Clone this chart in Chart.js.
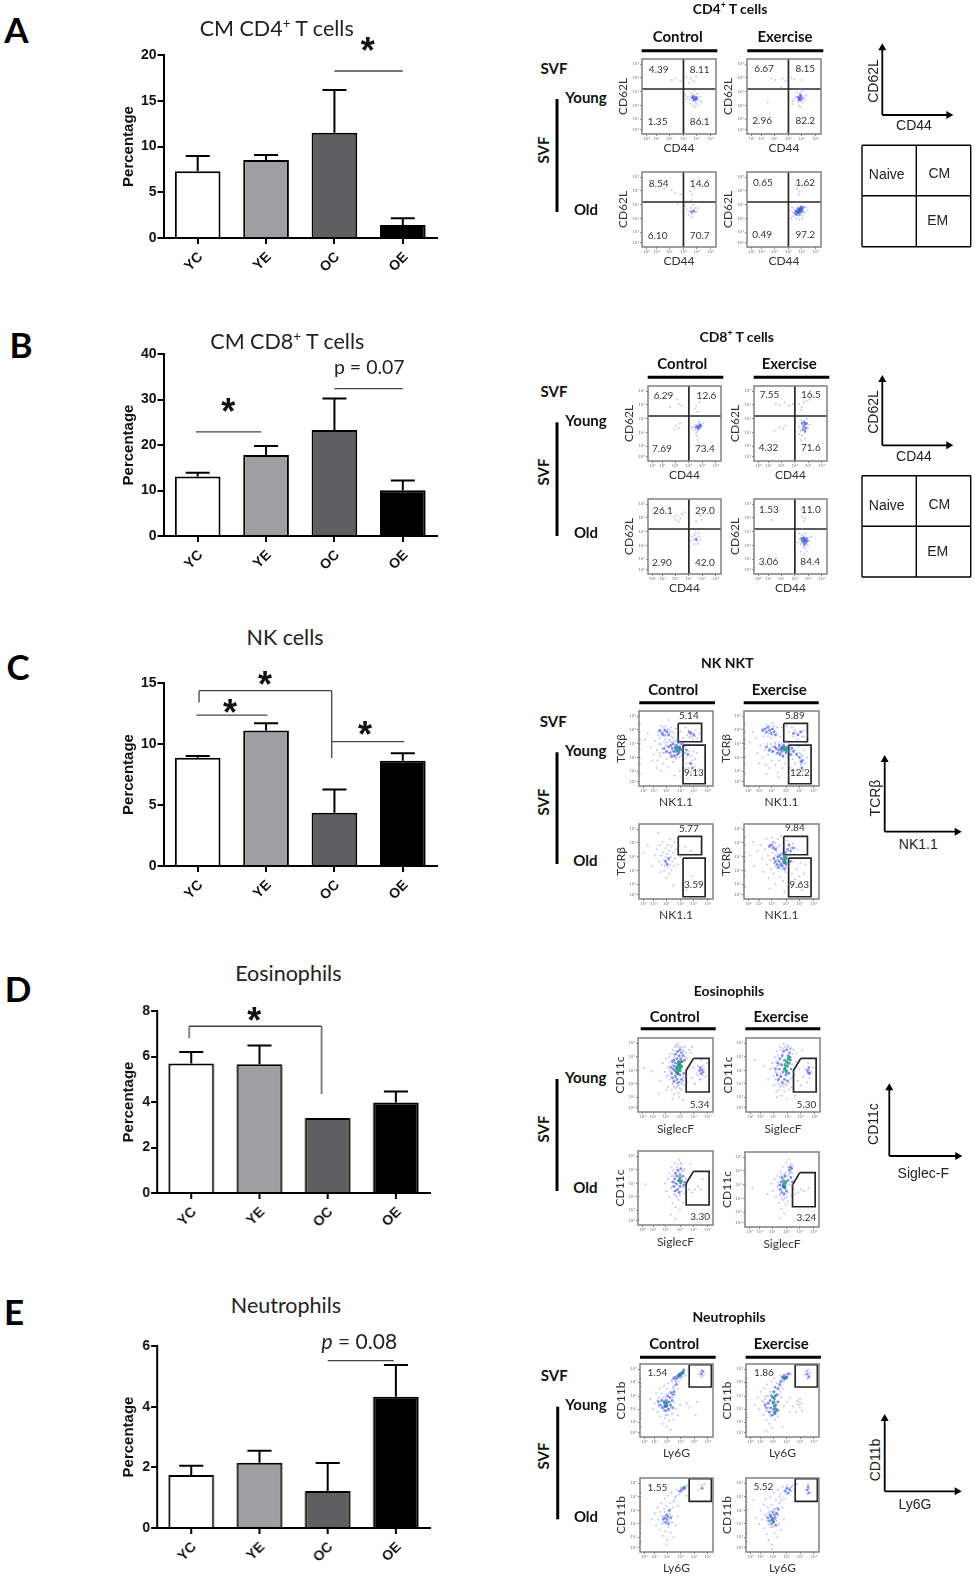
<!DOCTYPE html>
<html>
<head>
<meta charset="utf-8">
<title>Memory T cells, NK cells, eosinophils and neutrophils</title>
<script src="https://cdn.jsdelivr.net/npm/chart.js@4"></script>
<style>
  html, body { margin: 0; background: #fff; }
  #page { position: relative; width: 975px; height: 1579px; overflow: hidden; background: #fff; }
  canvas { position: absolute; }
  svg { position: absolute; left: 0; top: 0; }
  .t { position: absolute; white-space: nowrap; line-height: 1; color: #111; font-family: Lato, sans-serif; }
  .t sup { font-size: .62em; line-height: 0; }
  .letter { font-size: 35px; font-weight: 700; color: #000; }
  .title { font-size: 21.5px; color: #222; margin-top: -2px; }
  .star { font: 700 36px "Liberation Sans", sans-serif; }
  .pval { font-size: 21px; color: #222; margin-top: -2px; }
  .pval2 { font-size: 19.5px; color: #222; margin-top: -3px; }
  .head { font-size: 14px; font-weight: 700; margin-top: -1px; }
  .group { font-size: 15px; font-weight: 700; margin-top: -1px; }
  .num { font-size: 10px; color: #333; margin-top: -1px; }
  .sch { font: 14px "Liberation Sans", sans-serif; color: #222; }
</style>
</head>
<body>
<div id="page"></div>
<script>
'use strict';
let page = document.getElementById('page');

let categories = ['YC', 'YE', 'OC', 'OE'];
let barColors = ['#ffffff', '#9f9fa3', '#5f5f61', '#000000'];

let cd4Means = [7.3, 8.52, 11.5, 1.42];
let cd4Tops = [8.96, 9.07, 16.17, 2.15];
let cd4Ticks = [0, 5, 10, 15, 20];

let cd8Means = [13.07, 17.8, 23.3, 10.06];
let cd8Tops = [13.9, 19.8, 30.2, 12.2];
let cd8Ticks = [0, 10, 20, 30, 40];

let nkMeans = [8.88, 11.1, 4.36, 8.63];
let nkTops = [9.02, 11.7, 6.28, 9.24];
let nkTicks = [0, 5, 10, 15];

let eosMeans = [5.69, 5.66, 3.3, 3.98];
let eosTops = [6.2, 6.48, 3.3, 4.46];
let eosTicks = [0, 2, 4, 6, 8];

let neuMeans = [1.75, 2.15, 1.22, 4.33];
let neuTops = [2.05, 2.55, 2.14, 5.37];
let neuTicks = [0, 2, 4, 6];

// significance lines: category index and value at both ends
let cd4Lines = [[2, 18.25, 3, 18.25]];
let cd8Lines = [[-0.03, 22.9, 0.93, 22.9], [2, 32.4, 3, 32.4]];
let nkLines = [[0.02, 13.4, 0.02, 14.37], [0.02, 14.37, 1.96, 14.37], [1.96, 14.37, 1.96, 8.86],
  [-0.02, 12.37, 1.02, 12.37], [1.96, 10.2, 3.02, 10.2]];
let eosLines = [[-0.03, 6.8, -0.03, 7.33], [-0.03, 7.33, 1.91, 7.33], [1.91, 7.33, 1.91, 4.35]];
let neuLines = [[2, 5.52, 2.97, 5.52]];

// flow plots, both axes read as percent of the plot box
let flowXTicks = [6, 20, 37, 56, 74, 93];
let flowYTicks = [6, 20, 38, 56, 75, 93];
let flowTickLabels = ['10⁰', '10¹', '10²', '10³', '10⁴', '10⁵'];

let quadV = [[56, 0], [56, 100]];
let quadH = [[0, 60], [100, 60]];
let nkUpperGate = [[53, 83.5], [84.6, 83.5], [84.6, 59], [53, 59], [53, 83.5]];
let nkLowerGate = [[59.5, 54.4], [89.4, 54.4], [89.4, 3], [59.5, 3], [59.5, 54.4]];
let eosGate = [[74, 72.5], [94.8, 72.5], [94.8, 27], [64.2, 27], [64.2, 56], [74, 72.5]];
let neuGate = [[67.4, 99], [97.8, 99], [97.8, 68.5], [67.4, 68.5], [67.4, 99]];

let cd4ycLow = [[66,50],[68,44],[70,52],[73,41],[75,49],[64,46],[62,50],[74,54],[77,45],[69,38],[72,36],[60,47],[79,50],[67,55],[71,58],[58,52],[80,43],[45,74],[52,71],[66,74],[70,70],[73,77],[60,76],[64,68],[40,72],[76,38],[65,41]];
let cd4ycMid = [[70,47],[72,49],[71,45],[74,48],[68,48],[73,46],[69,50]];
let cd4yeLow = [[66,50],[69,43],[72,54],[75,42],[77,49],[64,47],[62,44],[74,57],[78,46],[70,38],[68,55],[61,40],[80,52],[33,74],[38,72],[48,74],[52,71],[60,75],[64,73],[74,72],[28,42],[46,62],[72,36],[73,60]];
let cd4yeMid = [[71,48],[73,50],[70,46],[74,47],[69,49],[72,45],[72,52]];
let cd4ocLow = [[60,50],[64,47],[66,52],[68,44],[70,49],[72,52],[74,47],[67,40],[63,43],[76,52],[69,56],[55,52],[58,55],[48,57],[72,46],[65,74],[68,70],[66,62],[70,78],[40,76],[45,72],[52,70],[30,78]];
let cd4ocMid = [[70,48],[67,47]];
let cd4oeLow = [[62,46],[64,50],[66,44],[68,52],[70,42],[72,55],[74,42],[76,51],[78,46],[80,53],[63,41],[67,38],[71,36],[75,38],[61,53],[82,49],[72,60],[68,59],[60,38],[70,70],[68,78],[66,84],[71,74],[58,48]];
let cd4oeMid = [[66,48],[68,46],[70,49],[72,47],[74,50],[69,51],[71,44],[73,53],[67,43],[75,47],[65,45],[72,51],[76,53]];
let cd4oeHot = [[71,49],[72,50],[70,47],[73,51],[69,47]];

let cd8ycLow = [[62,46],[64,42],[66,48],[68,40],[70,50],[72,44],[74,47],[76,50],[60,44],[67,34],[68,28],[66,38],[70,53],[38,47],[42,44],[36,42],[44,50],[64,70],[66,74],[68,66],[70,78],[42,76],[40,82],[46,74],[30,72]];
let cd8ycMid = [[68,46],[70,45],[72,47],[69,43],[71,48],[66,45]];
let cd8yeLow = [[62,46],[64,40],[65,54],[66,34],[68,52],[70,38],[72,56],[74,44],[64,28],[62,36],[76,48],[70,30],[35,45],[40,43],[43,47],[28,40],[66,72],[68,78],[72,80],[76,82],[62,76],[30,76],[36,74],[42,78],[48,74],[53,76],[64,68]];
let cd8yeMid = [[68,46],[70,49],[67,42],[71,44],[69,52],[72,50],[66,50],[70,40]];
let cd8ocLow = [[60,50],[62,46],[64,52],[66,48],[68,44],[70,50],[72,46],[65,56],[69,54],[58,44],[63,40],[68,40],[66,70],[72,78],[74,72],[36,76],[40,78],[44,74],[38,72],[46,80],[50,82],[42,70]];
let cd8ocMid = [[66,46]];
let cd8oeLow = [[62,46],[64,40],[66,52],[68,36],[70,54],[72,40],[74,48],[76,44],[64,30],[68,26],[70,34],[72,30],[74,38],[60,42],[62,54],[66,60],[68,70],[66,76],[68,82],[65,86],[70,74],[24,72],[78,50]];
let cd8oeMid = [[66,44],[68,42],[70,45],[72,47],[67,48],[69,48],[71,42],[65,47],[73,44],[69,39]];
let cd8oeHot = [[69,45]];

let nkycLow = [[8,62],[12,70],[16,52],[20,42],[22,60],[24,48],[25,34],[26,72],[27,56],[28,64],[29,40],[30,80],[31,50],[32,72],[33,30],[34,44],[35,62],[36,66],[36,80],[37,36],[38,54],[38,74],[39,46],[40,25],[41,70],[42,60],[43,38],[43,78],[44,50],[45,72],[46,32],[46,64],[47,42],[48,70],[49,55],[50,36],[50,76],[51,46],[52,64],[54,38],[55,20],[56,72],[58,44],[59,30],[60,64],[62,52],[62,24],[63,78],[64,38],[65,68],[66,58],[67,74],[68,30],[68,46],[69,66],[70,18],[70,40],[71,72],[72,34],[73,62],[74,70],[75,26],[76,36],[77,74],[78,44],[79,20],[79,64],[82,70],[30,20],[48,14],[18,34],[24,24],[40,88],[34,76],[58,12],[66,10],
  [38,58],[40,44],[41,62],[42,54],[44,58],[44,46],[45,38],[46,46],[47,60],[48,50],[49,38],[50,60],[51,40],[52,52],[53,44],[54,60],[55,46],[56,56],[57,40],[58,60],[60,50],[61,56],[63,44],[30,74],[33,78],[36,68],[39,76],[42,74],[44,66],[26,68],[68,64],[72,66],[76,66],[64,30],[67,24],[71,16],[74,46],[34,58],[36,54],[33,44],[30,56],[28,44]];
let nkycMid = [[28,74],[31,70],[33,68],[35,74],[38,72],[40,68],[34,50],[37,46],[40,52],[42,44],[43,54],[44,40],[45,50],[46,56],[47,46],[48,40],[49,52],[50,46],[51,54],[52,42],[53,58],[54,44],[55,52],[57,48],[58,56],[60,44],[64,48],[66,42],[70,30],[72,24],[70,70],[74,68],[68,72]];
let nkycHot = [[50,50],[52,48],[53,51],[54,49],[55,50],[53,47]];
let nkyeLow = [[8,58],[12,72],[16,64],[18,44],[22,54],[24,76],[25,38],[26,66],[28,48],[29,28],[30,82],[31,56],[32,42],[33,70],[34,24],[35,50],[36,64],[37,34],[38,84],[39,46],[40,72],[41,58],[42,28],[43,42],[44,78],[45,18],[46,52],[47,34],[48,66],[49,44],[50,78],[51,24],[52,38],[54,70],[55,30],[56,60],[57,80],[58,38],[60,72],[62,24],[62,46],[64,78],[65,36],[66,66],[68,30],[68,74],[70,44],[71,62],[72,18],[73,52],[74,72],[75,34],[76,28],[77,66],[78,40],[79,22],[80,48],[80,74],[82,30],[82,56],[84,38],[84,68],[46,12],[20,30],[30,16],[60,14],
  [28,70],[30,78],[32,66],[34,80],[36,76],[38,68],[40,80],[42,74],[44,70],[33,46],[36,56],[38,52],[40,46],[42,56],[44,44],[46,58],[48,48],[50,56],[52,46],[54,56],[56,52],[58,44],[60,56],[62,52],[64,42],[66,54],[68,48],[72,40],[74,44],[76,42],[78,30],[78,20],[75,72],[70,70],[80,66]];
let nkyeMid = [[25,74],[28,76],[30,72],[32,78],[34,74],[36,70],[38,76],[40,72],[42,68],[30,52],[34,48],[38,46],[41,52],[43,50],[45,44],[46,48],[47,54],[48,42],[49,50],[50,46],[51,52],[52,40],[53,54],[56,44],[58,52],[60,48],[62,42],[64,50],[66,46],[70,42],[74,38],[76,32],[77,24],[78,34],[66,70],[72,68],[76,72]];
let nkyeHot = [[51,50],[53,49],[54,51],[55,48],[56,50],[58,47]];
let nkocLow = [[6,62],[12,72],[18,44],[22,58],[24,66],[26,88],[27,50],[28,72],[29,36],[30,58],[31,46],[32,76],[33,62],[34,52],[34,38],[35,44],[36,56],[36,68],[37,28],[37,48],[38,60],[39,42],[39,72],[40,52],[41,34],[41,64],[42,46],[42,80],[43,56],[44,38],[44,70],[45,50],[46,62],[47,44],[48,76],[49,54],[50,66],[52,46],[54,72],[56,56],[62,70],[66,60],[70,64],[72,30],[64,12],[80,22],[46,18]];
let nkocMid = [[36,50],[38,46],[40,54]];
let nkoeLow = [[8,58],[12,76],[14,44],[18,64],[22,72],[24,54],[26,36],[28,66],[30,80],[31,46],[32,58],[33,28],[34,72],[35,52],[36,40],[37,82],[38,62],[39,34],[40,76],[41,48],[42,58],[42,20],[43,68],[44,42],[45,80],[46,52],[47,30],[48,72],[49,62],[50,40],[50,84],[51,54],[52,24],[54,70],[55,36],[56,62],[58,78],[60,44],[60,20],[62,68],[64,34],[65,74],[66,50],[68,26],[70,40],[71,66],[72,16],[74,30],[75,48],[76,22],[78,12],[80,34],[82,46],[34,14],[54,10],
  [36,72],[38,76],[40,70],[42,74],[44,64],[46,70],[40,48],[42,44],[44,52],[45,60],[46,46],[47,56],[48,44],[49,54],[50,48],[51,60],[52,50],[53,42],[54,58],[56,42],[57,58],[58,48],[60,60],[62,58],[64,68]];
let nkoeMid = [[34,70],[37,72],[39,68],[42,66],[40,54],[42,50],[44,46],[45,56],[46,42],[47,50],[48,58],[49,46],[50,54],[51,44],[52,60],[53,48],[54,40],[55,62],[56,46],[58,66],[60,72],[62,64],[66,68],[62,50]];
let nkoeHot = [[53,52],[55,53],[54,50],[56,55],[55,49],[54,56]];

let eosycLow = [[18,55],[8,60],[30,42],[33,66],[36,54],[38,48],[38,72],[40,60],[40,34],[42,68],[42,44],[43,78],[44,54],[45,30],[46,64],[46,84],[47,40],[48,74],[48,24],[49,50],[50,88],[50,32],[52,80],[52,38],[53,92],[54,26],[55,20],[56,86],[58,30],[60,84],[60,42],[62,88],[62,36],[64,80],[65,48],[68,84],[70,80],[72,46],[74,60],[76,38],[78,52],[80,62],[82,44],[84,70],[86,50],[88,58],[90,48],[92,66],[72,88],[60,16],[46,18],[38,30],[28,25],
  [42,56],[43,62],[44,48],[45,70],[46,38],[47,78],[48,34],[49,82],[50,40],[51,90],[52,34],[54,36],[54,88],[56,32],[57,40],[58,88],[59,38],[60,48],[61,82],[62,46],[63,74],[64,58],[66,72],[66,40],[68,60],[42,74],[40,50],[86,62],[80,50],[84,44]];
let eosycMid = [[44,60],[45,52],[46,68],[46,46],[47,58],[48,62],[48,42],[48,70],[49,56],[50,48],[50,66],[50,78],[51,60],[52,44],[52,72],[53,52],[53,82],[54,64],[54,40],[55,76],[56,50],[56,84],[57,72],[58,80],[58,44],[59,68],[60,76],[61,52],[62,70],[82,56],[84,52],[85,57],[83,60],[87,54]];
let eosycHot = [[51,54],[52,58],[53,62],[54,56],[54,68],[55,60],[55,66],[56,64],[56,56],[57,60],[57,68],[58,62],[53,52]];
let eosyeLow = [[12,70],[24,62],[30,44],[33,58],[36,66],[37,48],[38,36],[39,74],[40,54],[41,28],[42,62],[42,82],[43,42],[44,70],[45,30],[46,88],[47,52],[48,22],[49,78],[50,38],[51,92],[52,28],[54,84],[55,18],[57,88],[58,30],[60,86],[62,34],[62,46],[64,84],[66,50],[68,80],[70,42],[72,58],[74,36],[78,48],[80,58],[82,40],[84,66],[86,46],[88,54],[76,84],[90,60],[42,20],[66,22],
  [38,60],[40,44],[41,68],[42,52],[43,76],[44,38],[45,64],[46,46],[47,84],[48,36],[49,62],[50,86],[51,34],[53,38],[53,88],[55,36],[56,90],[58,40],[59,84],[60,44],[61,86],[62,64],[63,78],[64,54],[66,62],[68,68],[46,34],[84,58],[86,56]];
let eosyeMid = [[40,58],[42,50],[43,66],[44,44],[45,58],[46,72],[47,48],[48,64],[49,40],[49,76],[50,54],[51,82],[52,44],[52,70],[53,60],[54,50],[55,84],[56,42],[57,76],[58,52],[59,80],[60,70],[61,58],[83,56],[85,60],[84,53],[86,52]];
let eosyeHot = [[52,58],[53,64],[54,56],[55,68],[56,62],[57,72],[58,66],[59,74],[55,54]];
let eosocLow = [[10,55],[36,56],[38,46],[40,62],[42,70],[42,38],[44,50],[45,78],[46,30],[48,66],[48,42],[49,84],[50,24],[52,54],[52,78],[54,34],[55,88],[56,20],[58,82],[60,30],[62,42],[62,76],[64,50],[68,48],[72,44],[76,48],[80,52],[84,48],[86,62],[50,8],[44,14],[70,82],
  [44,58],[45,66],[46,52],[47,74],[48,46],[49,56],[50,40],[51,68],[52,38],[53,82],[54,44],[55,72],[56,40],[57,84],[58,46],[59,72],[60,52],[61,74],[62,50],[64,62]];
let eosocMid = [[47,58],[48,52],[49,62],[50,46],[50,70],[51,56],[52,66],[53,48],[53,74],[54,60],[55,44],[56,68],[56,52],[57,76],[58,60],[60,66],[61,54],[62,58]];
let eosocHot = [[55,60],[57,57],[56,64]];
let eoseLow = [[10,52],[30,44],[36,58],[38,48],[40,64],[42,40],[44,54],[44,68],[46,32],[47,44],[48,74],[49,24],[50,60],[51,36],[52,80],[53,18],[54,66],[55,30],[56,86],[58,34],[60,90],[62,42],[62,74],[64,56],[66,50],[68,44],[72,46],[76,50],[80,48],[86,52],[60,70],[64,82],[48,12],
  [45,60],[46,50],[47,66],[48,42],[49,70],[50,38],[51,64],[52,42],[53,70],[54,38],[55,72],[56,40],[57,68],[58,46],[59,74],[60,56],[61,72],[62,84],[64,72],[58,80]];
let eoseMid = [[47,56],[48,50],[49,60],[50,46],[50,66],[51,54],[52,62],[53,44],[54,52],[54,68],[56,48],[58,62],[60,76],[61,80],[62,66],[63,78],[64,60]];
let eoseHot = [[52,56],[53,58],[54,55],[55,60],[53,53]];

let neuycLow = [[14,52],[18,38],[20,46],[22,60],[24,34],[25,44],[26,54],[27,66],[28,28],[29,40],[30,60],[31,18],[32,36],[33,70],[34,26],[35,54],[36,14],[37,66],[38,30],[39,74],[40,22],[41,62],[42,40],[43,78],[44,32],[45,68],[46,24],[47,48],[48,72],[49,38],[50,84],[52,66],[52,30],[54,76],[55,44],[56,88],[58,82],[60,90],[62,84],[64,46],[66,92],[68,40],[78,48],[80,86],[82,90],[84,82],[85,92],[87,84],[88,88],[76,30],[42,10],
  [24,50],[26,42],[28,50],[30,42],[32,54],[33,38],[34,50],[35,30],[36,58],[37,36],[38,44],[39,60],[40,36],[41,44],[42,54],[43,42],[44,62],[45,54],[46,66],[47,70],[48,76],[49,78],[50,76],[44,76],[52,80],[54,82],[56,80],[58,86],[60,86],[84,88]];
let neuycMid = [[25,48],[28,44],[30,50],[31,40],[33,48],[34,42],[35,36],[36,50],[37,42],[38,56],[39,38],[40,48],[41,54],[42,44],[43,60],[44,50],[45,40],[46,58],[47,62],[50,72],[46,80],[48,82],[50,80],[52,84],[54,86],[56,84],[58,88],[60,92],[84,86],[86,90]];
let neuycHot = [[34,46],[36,44],[37,47],[35,42],[53,83],[55,86],[57,87],[59,89]];
let neuyeLow = [[12,44],[16,54],[18,38],[20,62],[22,50],[24,30],[25,66],[26,42],[27,56],[28,24],[29,72],[30,36],[31,48],[32,18],[33,62],[34,28],[35,76],[36,12],[38,60],[39,80],[40,24],[42,74],[44,28],[45,68],[46,36],[47,84],[48,54],[50,78],[52,42],[54,82],[56,48],[58,88],[60,54],[62,86],[64,42],[66,90],[70,50],[72,44],[74,52],[74,40],[76,46],[77,36],[68,34],[80,86],[82,90],[84,80],[85,92],[87,84],[88,88],[60,34],[50,14],[28,8],
  [24,48],[26,52],[28,36],[30,56],[31,40],[32,46],[33,30],[34,58],[35,36],[36,48],[37,62],[38,30],[39,46],[40,62],[41,34],[42,48],[43,66],[44,38],[45,58],[46,76],[47,62],[48,70],[49,80],[50,66],[52,76],[53,86],[56,86],[60,88],[72,48],[84,90]];
let neuyeMid = [[26,44],[28,40],[30,46],[32,34],[33,50],[34,40],[35,56],[36,30],[37,46],[38,62],[38,38],[39,52],[40,68],[40,32],[41,44],[42,58],[43,36],[44,66],[44,48],[46,72],[48,76],[50,82],[52,84],[54,80],[56,82],[58,86],[84,86],[86,82]];
let neuyeHot = [[37,54],[38,48],[39,42],[40,56],[41,38],[39,34],[52,81],[53,80],[55,82]];
let neuocLow = [[16,44],[20,52],[22,36],[24,60],[25,44],[27,30],[28,54],[29,66],[30,38],[31,22],[32,48],[33,58],[34,72],[35,28],[36,62],[37,16],[38,76],[39,34],[40,52],[41,66],[42,26],[43,80],[44,40],[46,68],[46,20],[48,74],[49,36],[50,84],[52,62],[54,78],[56,86],[58,82],[60,88],[62,84],[64,90],[52,48],[64,76],[80,84],[84,90],[86,86],[88,92],[36,10],
  [30,48],[32,40],[34,54],[36,40],[38,42],[40,40],[41,50],[42,58],[44,48],[45,60],[47,70],[50,76],[53,82],[57,88],[59,85]];
let neuocMid = [[32,44],[34,46],[35,40],[36,50],[37,44],[38,48],[39,38],[40,56],[42,46],[55,82],[57,84],[60,86],[85,86]];
let neuocHot = [[61,87]];
let neuoeLow = [[10,70],[14,46],[18,38],[20,56],[22,44],[24,64],[25,32],[26,50],[27,72],[28,24],[29,42],[30,60],[31,16],[32,54],[33,74],[34,34],[35,64],[36,10],[37,44],[38,80],[39,26],[40,58],[41,70],[42,20],[43,50],[44,84],[45,38],[46,66],[47,78],[48,30],[50,88],[50,60],[52,72],[54,84],[56,90],[58,78],[60,86],[62,82],[64,90],[66,84],[52,44],[36,4],[82,84],[84,78],[85,92],[86,86],[88,80],[70,92],
  [28,48],[30,52],[31,38],[33,42],[34,56],[35,46],[36,52],[37,34],[38,58],[39,44],[40,36],[41,54],[42,42],[43,60],[44,50],[45,56],[46,74],[48,70],[52,82],[55,78],[58,86],[62,88]];
let neuoeMid = [[30,46],[32,42],[33,50],[34,48],[35,38],[36,46],[37,54],[38,40],[39,50],[40,46],[41,36],[42,52],[44,58],[54,82],[56,86],[58,80],[60,84],[84,84],[85,88],[86,80]];
let neuoeHot = [[36,44],[37,42]];

let nkEdge = [[0.8,30],[0.8,38],[0.8,50],[0.8,56],[0.8,62],[0.8,72],[0.8,82],[0.8,16]];
let neuEdge = [[0.8,38],[0.8,42],[0.8,46],[0.8,50],[0.8,54],[0.8,58],[0.8,62]];
let neuEdgeCool = [[0.8,68],[0.8,74],[0.8,80],[0.8,26],[0.8,32],[0.8,14]];

let cd4Notes = [
  [['4.39', 22, 83.5], ['8.11', 76, 83.5], ['1.35', 20.5, 15.6], ['86.1', 76, 15.6]],
  [['6.67', 22.4, 84.8], ['8.15', 76.7, 84.8], ['2.96', 20, 17.4], ['82.2', 76.7, 17.4]],
  [['8.54', 22, 82], ['14.6', 76, 82], ['6.10', 20.5, 14.6], ['70.7', 76, 14.6]],
  [['0.65', 21, 83.6], ['1.62', 76.7, 83.6], ['0.49', 20, 16], ['97.2', 76.7, 16]]
];
let cd8Notes = [
  [['6.29', 20.7, 84], ['12.6', 78, 84], ['7.69', 18.5, 15.2], ['73.4', 75.8, 15.2]],
  [['7.55', 20.7, 85.6], ['16.5', 75.8, 85.6], ['4.32', 19.4, 17], ['71.6', 75.8, 17]],
  [['26.1', 20, 82], ['29.0', 75.8, 82], ['2.90', 18.5, 14.5], ['42.0', 75.8, 14.5]],
  [['1.53', 20, 83], ['11.0', 75.8, 83], ['3.06', 19.4, 16], ['84.4', 75, 16]]
];
let nkNotes = [
  [['5.14', 65.6, 91.3], ['9.13', 72.2, 17.4]],
  [['5.89', 66, 91.3], ['12.2', 72.6, 17.4]],
  [['5.77', 65.6, 91.3], ['3.59', 72.2, 17.7]],
  [['9.84', 66, 91.8], ['9.63', 71.7, 17.7]]
];
let eosNotes = [[['5.34', 80, 9]], [['5.30', 79.6, 9]], [['3.30', 80.8, 10.4]], [['3.24', 80.9, 12]]];
let neuNotes = [[['1.54', 23.3, 86]], [['1.86', 24, 86]], [['1.55', 23.3, 84]], [['5.52', 23.3, 85]]];

// draws the SD whiskers above each bar
let whiskerPlugin = {
  id: 'whiskers',
  afterDatasetsDraw(chart, args, opts) {
    let ctx = chart.ctx;
    let x = chart.scales.x;
    let y = chart.scales.y;
    ctx.save();
    ctx.strokeStyle = '#000';
    ctx.lineWidth = 2;
    opts.tops.forEach((top, i) => {
      let mean = chart.data.datasets[0].data[i];
      if (top <= mean) return;
      let px = x.getPixelForValue(i);
      ctx.beginPath();
      ctx.moveTo(px, y.getPixelForValue(mean));
      ctx.lineTo(px, y.getPixelForValue(top));
      ctx.moveTo(px - 12, y.getPixelForValue(top));
      ctx.lineTo(px + 12, y.getPixelForValue(top));
      ctx.stroke();
    });
    ctx.restore();
  }
};

// significance lines, in category index / value units
let sigLinePlugin = {
  id: 'sigLines',
  afterDatasetsDraw(chart, args, opts) {
    let ctx = chart.ctx;
    let x = chart.scales.x;
    let y = chart.scales.y;
    ctx.save();
    ctx.strokeStyle = '#444';
    ctx.lineWidth = 1.3;
    opts.lines.forEach(l => {
      ctx.beginPath();
      ctx.moveTo(x.getPixelForValue(0) + l[0] * (x.getPixelForValue(1) - x.getPixelForValue(0)), y.getPixelForValue(l[1]));
      ctx.lineTo(x.getPixelForValue(0) + l[2] * (x.getPixelForValue(1) - x.getPixelForValue(0)), y.getPixelForValue(l[3]));
      ctx.stroke();
    });
    ctx.restore();
  }
};

let framePlugin = {
  id: 'frame',
  afterDatasetsDraw(chart) {
    let a = chart.chartArea;
    chart.ctx.save();
    chart.ctx.strokeStyle = '#808080';
    chart.ctx.lineWidth = 1.5;
    chart.ctx.strokeRect(a.left, a.top, a.right - a.left, a.bottom - a.top);
    chart.ctx.restore();
  }
};

function addCanvas(left, top, width, height) {
  let c = document.createElement('canvas');
  c.width = width;
  c.height = height;
  c.style.left = left + 'px';
  c.style.top = top + 'px';
  c.style.width = width + 'px';
  c.style.height = height + 'px';
  page.appendChild(c);
  return c;
}

function addText(html, cx, cy, cls, rot) {
  let d = document.createElement('div');
  d.className = 't ' + cls;
  d.innerHTML = html;
  d.style.left = cx + 'px';
  d.style.top = cy + 'px';
  d.style.transform = 'translate(-50%,-50%)' + (rot ? ' rotate(' + rot + 'deg)' : '');
  page.appendChild(d);
}

function barChart(areaLeft, areaTop, areaRight, areaBottom, means, tops, ticks, lines) {
  let canvasLeft = 112;
  let yWidth = areaLeft - canvasLeft;
  let padTop = 16;
  let xHeight = 48;
  let c = addCanvas(canvasLeft, areaTop - padTop, areaRight - canvasLeft + 12, areaBottom - areaTop + padTop + xHeight);
  new Chart(c, {
    type: 'bar',
    data: {
      labels: categories,
      datasets: [{
        data: means,
        backgroundColor: barColors,
        borderColor: '#000',
        borderWidth: 2,
        borderSkipped: 'bottom',
        barPercentage: 0.668,
        categoryPercentage: 1
      }]
    },
    plugins: [whiskerPlugin, sigLinePlugin],
    options: {
      responsive: false,
      animation: false,
      layout: { padding: { top: padTop, right: 12, left: 0, bottom: 0 } },
      plugins: {
        legend: { display: false },
        tooltip: { enabled: false },
        whiskers: { tops: tops },
        sigLines: { lines: lines }
      },
      scales: {
        x: {
          afterFit: s => { s.height = xHeight; },
          grid: { display: true, offset: false, drawOnChartArea: false, color: '#000', lineWidth: 2, tickLength: 6 },
          border: { color: '#000', width: 2 },
          ticks: {
            autoSkip: false,
            minRotation: 45,
            maxRotation: 45,
            padding: 5,
            labelOffset: 3,
            color: '#111',
            font: { family: 'Liberation Sans', size: 14, weight: 'bold' }
          }
        },
        y: {
          min: ticks[0],
          max: ticks[ticks.length - 1],
          afterFit: s => { s.width = yWidth; },
          afterBuildTicks: s => { s.ticks = ticks.map(v => ({ value: v })); },
          title: {
            display: true,
            text: 'Percentage',
            color: '#111',
            padding: { top: 8, bottom: 0 },
            font: { family: 'Liberation Sans', size: 15, weight: 'bold' }
          },
          grid: { drawOnChartArea: false, color: '#000', lineWidth: 2, tickLength: 6 },
          border: { color: '#000', width: 2 },
          ticks: {
            padding: 1,
            color: '#111',
            font: { family: 'Liberation Sans', size: 14, weight: 'bold' }
          }
        }
      }
    }
  });
}

function toXY(list) {
  return list.map(p => ({ x: p[0], y: p[1] }));
}

function cloud(list, color, radius) {
  return { data: toXY(list), backgroundColor: color, borderWidth: 0, pointRadius: radius, showLine: false };
}

function gateLine(list) {
  return { data: toXY(list), borderColor: '#262626', borderWidth: 1.7, pointRadius: 0, showLine: true, tension: 0 };
}

function flowPlot(box, xTitle, yTitle, xGap, yGap, low, mid, hot, gates, notes, edges) {
  let left = box[0], top = box[1], right = box[2], bottom = box[3];
  let w = right - left, h = bottom - top;
  let marginL = 27, marginB = 26, pad = 2;
  let c = addCanvas(left - marginL, top - pad, w + marginL + pad, h + pad + marginB);
  let sets = [];
  if (edges) edges.forEach(e => sets.push(cloud(e[0], e[1], 0.9)));
  sets.push(cloud(low, 'rgba(120,130,235,0.45)', 1.05));
  if (mid) sets.push(cloud(mid, 'rgba(60,80,220,0.65)', 1.4));
  if (hot) sets.push(cloud(hot, 'rgba(40,170,120,0.9)', 1.7));
  gates.forEach(g => sets.push(gateLine(g)));
  new Chart(c, {
    type: 'scatter',
    data: { datasets: sets },
    plugins: [framePlugin],
    options: {
      responsive: false,
      animation: false,
      layout: { padding: { top: pad, right: pad, left: 0, bottom: 0 } },
      plugins: { legend: { display: false }, tooltip: { enabled: false } },
      scales: {
        x: {
          type: 'linear',
          min: 0,
          max: 100,
          afterFit: s => { s.height = marginB; },
          afterBuildTicks: s => { s.ticks = flowXTicks.map(v => ({ value: v })); },
          grid: { drawOnChartArea: false, color: '#888', lineWidth: 1, tickLength: 2 },
          border: { display: false },
          title: { display: true, text: xTitle, color: '#333', padding: { top: 0, bottom: marginB - xGap - 7 }, font: { family: 'Lato', size: 12 } },
          ticks: { autoSkip: false, maxRotation: 0, padding: 1, color: '#777', font: { family: 'DejaVu Sans', size: 4 }, callback: (v, i) => flowTickLabels[i] }
        },
        y: {
          min: 0,
          max: 100,
          afterFit: s => { s.width = marginL; },
          afterBuildTicks: s => { s.ticks = flowYTicks.map(v => ({ value: v })); },
          grid: { drawOnChartArea: false, color: '#888', lineWidth: 1, tickLength: 2 },
          border: { display: false },
          title: { display: true, text: yTitle, color: '#333', padding: { top: marginL - yGap - 7, bottom: 0 }, font: { family: 'Lato', size: 12 } },
          ticks: { autoSkip: false, padding: 1, color: '#777', font: { family: 'DejaVu Sans', size: 4 }, callback: (v, i) => flowTickLabels[i] }
        }
      }
    }
  });
  notes.forEach(n => addText(n[0], left + w * n[1] / 100, bottom - h * n[2] / 100, 'num'));
}

barChart(163.5, 55, 437, 238, cd4Means, cd4Tops, cd4Ticks, cd4Lines);
barChart(163.5, 354, 437, 536, cd8Means, cd8Tops, cd8Ticks, cd8Lines);
barChart(163.5, 683, 437, 866, nkMeans, nkTops, nkTicks, nkLines);
barChart(157, 1011, 429.6, 1193, eosMeans, eosTops, eosTicks, eosLines);
barChart(157, 1346, 429.6, 1528, neuMeans, neuTops, neuTicks, neuLines);

let tGates = [quadV, quadH];
let nkGates = [nkUpperGate, nkLowerGate];
let nkEdges = [[nkEdge, '#3fae7e']];
let neuEdges = [[neuEdge, '#f0a868'], [neuEdgeCool, '#58b890']];

flowPlot([642, 57, 718, 134], 'CD44', 'CD62L', 14, 19, cd4ycLow, cd4ycMid, null, tGates, cd4Notes[0]);
flowPlot([747, 57, 823, 134], 'CD44', 'CD62L', 14, 19, cd4yeLow, cd4yeMid, null, tGates, cd4Notes[1]);
flowPlot([642, 170, 718, 247], 'CD44', 'CD62L', 14, 19, cd4ocLow, cd4ocMid, null, tGates, cd4Notes[2]);
flowPlot([747, 170, 823, 247], 'CD44', 'CD62L', 14, 19, cd4oeLow, cd4oeMid, cd4oeHot, tGates, cd4Notes[3]);

flowPlot([648, 384, 723, 461], 'CD44', 'CD62L', 14, 19, cd8ycLow, cd8ycMid, null, tGates, cd8Notes[0]);
flowPlot([754, 384, 829, 461], 'CD44', 'CD62L', 14, 19, cd8yeLow, cd8yeMid, null, tGates, cd8Notes[1]);
flowPlot([648, 497, 723, 574], 'CD44', 'CD62L', 14, 19, cd8ocLow, cd8ocMid, null, tGates, cd8Notes[2]);
flowPlot([754, 497, 829, 574], 'CD44', 'CD62L', 14, 19, cd8oeLow, cd8oeMid, cd8oeHot, tGates, cd8Notes[3]);

flowPlot([639, 709, 715, 786], 'NK1.1', 'TCRβ', 16, 18, nkycLow, nkycMid, nkycHot, nkGates, nkNotes[0], nkEdges);
flowPlot([744, 709, 821, 786], 'NK1.1', 'TCRβ', 16, 18, nkyeLow, nkyeMid, nkyeHot, nkGates, nkNotes[1], nkEdges);
flowPlot([639, 822, 715, 899], 'NK1.1', 'TCRβ', 16, 18, nkocLow, nkocMid, null, nkGates, nkNotes[2]);
flowPlot([744, 822, 821, 899], 'NK1.1', 'TCRβ', 16, 18, nkoeLow, nkoeMid, nkoeHot, nkGates, nkNotes[3], nkEdges);

flowPlot([638, 1036, 715, 1112], 'SiglecF', 'CD11c', 17, 18, eosycLow, eosycMid, eosycHot, [eosGate], eosNotes[0]);
flowPlot([746, 1036, 822, 1112], 'SiglecF', 'CD11c', 17, 18, eosyeLow, eosyeMid, eosyeHot, [eosGate], eosNotes[1]);
flowPlot([638, 1149, 715, 1225], 'SiglecF', 'CD11c', 17, 18, eosocLow, eosocMid, eosocHot, [eosGate], eosNotes[2]);
flowPlot([745, 1150, 821, 1227], 'SiglecF', 'CD11c', 17, 18, eoseLow, eoseMid, eoseHot, [eosGate], eosNotes[3]);

flowPlot([640, 1362, 715, 1437], 'Ly6G', 'CD11b', 16, 19, neuycLow, neuycMid, neuycHot, [neuGate], neuNotes[0], neuEdges);
flowPlot([746, 1362, 821, 1437], 'Ly6G', 'CD11b', 16, 19, neuyeLow, neuyeMid, neuyeHot, [neuGate], neuNotes[1], neuEdges);
flowPlot([640, 1476, 715, 1552], 'Ly6G', 'CD11b', 16, 19, neuocLow, neuocMid, neuocHot, [neuGate], neuNotes[2], neuEdges);
flowPlot([746, 1476, 821, 1552], 'Ly6G', 'CD11b', 16, 19, neuoeLow, neuoeMid, neuoeHot, [neuGate], neuNotes[3], neuEdges);

// panel letters, titles, stars
addText('A', 16.5, 28.5, 'letter');
addText('B', 21, 344, 'letter');
addText('C', 18, 666, 'letter');
addText('D', 18, 988, 'letter');
addText('E', 14, 1311, 'letter');

addText('CM CD4<sup>+</sup> T cells', 276.7, 30.7, 'title');
addText('CM CD8<sup>+</sup> T cells', 287.3, 344, 'title');
addText('NK cells', 285, 640, 'title');
addText('Eosinophils', 288.3, 975.7, 'title');
addText('Neutrophils', 286, 1308, 'title');

addText('*', 367.7, 51.2, 'star');
addText('*', 228.3, 412.2, 'star');
addText('*', 265, 684.5, 'star');
addText('*', 230, 712.5, 'star');
addText('*', 365, 735.2, 'star');
addText('*', 254.3, 1021, 'star');
addText('p = 0.07', 369.3, 370, 'pval2');
addText('<i>p</i> = 0.08', 359.3, 1341.7, 'pval');

// headers on the flow side
addText('CD4<sup>+</sup> T cells', 730, 10.3, 'head');
addText('CD8<sup>+</sup> T cells', 736.7, 338, 'head');
addText('NK NKT', 727.3, 664, 'head');
addText('Eosinophils', 729, 991.7, 'head');
addText('Neutrophils', 729, 1318, 'head');

let ctrlLabels = [[677.7, 37.3], [682.3, 364.3], [673.3, 690], [674.7, 1017.3], [674.3, 1344.3]];
let exerLabels = [[785, 37.3], [789.3, 364.3], [779.3, 690], [781, 1017.3], [781.3, 1344.3]];
ctrlLabels.forEach(p => addText('Control', p[0], p[1], 'group'));
exerLabels.forEach(p => addText('Exercise', p[0], p[1], 'group'));

addText('SVF', 554, 69, 'group');
addText('SVF', 554, 391.7, 'group');
addText('SVF', 553.3, 721.7, 'group');
addText('SVF', 554.3, 1376.3, 'group');
[[543, 150.7], [543, 473], [543.3, 803.3], [543.3, 1130], [543.3, 1456.7]].forEach(p => addText('SVF', p[0], p[1], 'group', -90));
[[586, 98], [586, 421.3], [585.7, 750.7], [585.7, 1077.7], [586, 1405.3]].forEach(p => addText('Young', p[0], p[1], 'group'));
[[586, 210], [586, 532.7], [585.3, 861.3], [585.3, 1188.3], [586, 1516.7]].forEach(p => addText('Old', p[0], p[1], 'group'));

addText('CD62L', 872.7, 81, 'sch', -90);
addText('CD44', 914, 125, 'sch');
addText('CD62L', 872.7, 411.7, 'sch', -90);
addText('CD44', 914, 456, 'sch');
addText('TCRβ', 875.3, 798.3, 'sch', -90);
addText('NK1.1', 918.3, 844, 'sch');
addText('CD11c', 873.3, 1124, 'sch', -90);
addText('Siglec-F', 923.3, 1172.7, 'sch');
addText('CD11b', 875.3, 1460, 'sch', -90);
addText('Ly6G', 915, 1504, 'sch');

addText('Naive', 886.7, 174, 'sch');
addText('CM', 939.3, 173.3, 'sch');
addText('EM', 937.7, 220, 'sch');
addText('Naive', 886.7, 504.7, 'sch');
addText('CM', 939.3, 504, 'sch');
addText('EM', 937.7, 550.7, 'sch');

// rules, arrows and the two schematic boxes
let svgNS = 'http://www.w3.org/2000/svg';
let svg = document.createElementNS(svgNS, 'svg');
svg.setAttribute('width', 975);
svg.setAttribute('height', 1579);
page.appendChild(svg);

function line(x1, y1, x2, y2, w) {
  let l = document.createElementNS(svgNS, 'line');
  l.setAttribute('x1', x1); l.setAttribute('y1', y1);
  l.setAttribute('x2', x2); l.setAttribute('y2', y2);
  l.setAttribute('stroke', '#000');
  l.setAttribute('stroke-width', w);
  svg.appendChild(l);
}

function head(points) {
  let p = document.createElementNS(svgNS, 'polygon');
  p.setAttribute('points', points);
  p.setAttribute('fill', '#000');
  svg.appendChild(p);
}

function axes(x, yBottom, yTop, xRight) {
  line(x, yBottom, x, yTop + 6, 1.8);
  line(x, yBottom, xRight - 6, yBottom, 1.8);
  head([x - 4, yTop + 7, x + 4, yTop + 7, x, yTop].join(' '));
  head([xRight - 7, yBottom - 4, xRight - 7, yBottom + 4, xRight, yBottom].join(' '));
}

function quadBox(left, top, right, bottom, midX, midY) {
  line(left, top, right, top, 1.4);
  line(left, bottom, right, bottom, 1.4);
  line(left, top, left, bottom, 1.4);
  line(right, top, right, bottom, 1.4);
  line(midX, top, midX, bottom, 1.4);
  line(left, midY, right, midY, 1.4);
}

[[641.7, 717.3, 747.3, 823.3, 50.7], [647.7, 723.3, 753.7, 829.3, 377.3], [639.3, 715, 743.7, 818.7, 702.7],
  [640.7, 715.7, 745.3, 820.3, 1028.7], [640, 715.7, 745.7, 821, 1357.3]].forEach(r => {
  line(r[0], r[4], r[1], r[4], 3);
  line(r[2], r[4], r[3], r[4], 3);
});

line(557, 99, 557, 212, 3);
line(557, 422.3, 557, 536, 3);
line(557, 752.3, 557, 864, 3);
line(557, 1079, 557, 1191, 3);
line(557.7, 1406.7, 557.7, 1519.3, 3);

axes(882.3, 115, 43.3, 953.3);
axes(882.3, 445.3, 375, 953.3);
axes(884.7, 831.7, 755, 961.7);
axes(889.3, 1156, 1083.3, 962.3);
axes(884.7, 1491.3, 1414, 961.7);

quadBox(862, 145.3, 970.7, 246.7, 916.3, 195.7);
quadBox(862, 475.7, 970.7, 577, 916.3, 526.3);
</script>
</body>
</html>
